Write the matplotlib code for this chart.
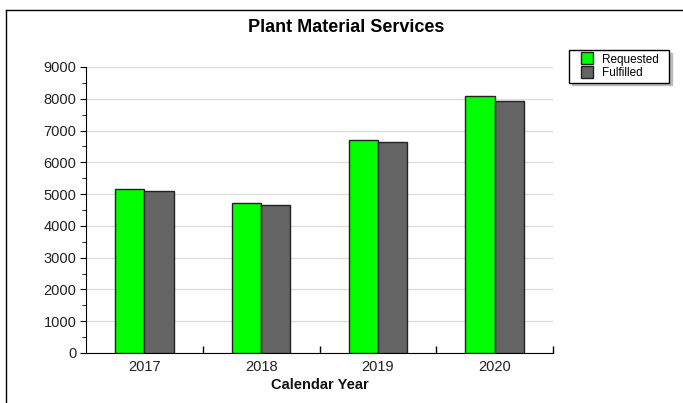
import numpy as np
import matplotlib
matplotlib.use('Agg')
import matplotlib.pyplot as plt
from matplotlib.lines import Line2D
from matplotlib.ticker import MultipleLocator

plt.rcParams['font.family'] = ['Liberation Sans', 'DejaVu Sans']

years = ['2017', '2018', '2019', '2020']
requested = [5150, 4730, 6710, 8080]
fulfilled = [5100, 4670, 6640, 7920]
series_names = ['Requested', 'Fulfilled']
series_colors = ['#00ff00', '#646464']

fig = plt.figure(figsize=(6.83, 4.03), dpi=100)
ax = fig.add_axes([86 / 683, 1 - 353 / 403, 467 / 683, (353 - 67) / 403])

x = np.arange(len(years))
w = 0.25
ax.bar(x - w / 2, requested, w, color=series_colors[0], edgecolor='#222222', linewidth=1, zorder=3)
ax.bar(x + w / 2, fulfilled, w, color=series_colors[1], edgecolor='#222222', linewidth=1, zorder=3)

ax.set_xlim(-0.5, 3.5)
ax.set_ylim(0, 9000)
ax.set_xticks(x)
ax.set_xticklabels(years, fontsize=10.5, color='#222222')
ax.tick_params(axis='x', length=0, pad=5)
# category boundary ticks pointing up
ax.set_xticks(np.arange(0.5, 4, 1), minor=True)
ax.tick_params(axis='x', which='minor', direction='in', length=5, width=1)

ax.yaxis.set_major_locator(MultipleLocator(1000))
ax.yaxis.set_minor_locator(MultipleLocator(500))
ax.tick_params(axis='y', which='major', direction='out', length=4, pad=3,
               labelsize=10.5, labelcolor='#222222')
ax.tick_params(axis='y', which='minor', direction='out', length=3)
ax.grid(axis='y', which='major', color='#dddddd', linewidth=1, zorder=0)

for s in ['top', 'right']:
    ax.spines[s].set_visible(False)

ax.set_xlabel('Calendar Year', fontsize=10.5, fontweight='bold', labelpad=3, color='#111111')
fig.text(0.507, 1 - 27 / 403, 'Plant Material Services', ha='center', va='center',
         fontsize=13, fontweight='bold')

handles = [Line2D([], [], marker='s', linestyle='none', markersize=8.5,
                  markerfacecolor=c, markeredgecolor='#222222', markeredgewidth=1)
           for c in series_colors]
leg = fig.legend(handles, [n + '  ' for n in series_names], loc='upper left',
                 bbox_to_anchor=(569 / 683, 1 - 50 / 403),
                 fontsize=8.5, frameon=True, fancybox=False,
                 shadow={'color': '#bbbbbb', 'alpha': 1},
                 handlelength=2.4, handletextpad=0.1,
                 borderpad=0.3, labelspacing=0.12, borderaxespad=0)
leg.get_frame().set_edgecolor('black')
leg.get_frame().set_linewidth(1)

# outer frame (top and left visible)
fig.add_artist(Line2D([6 / 683, 1], [1 - 10 / 403, 1 - 10 / 403], color='black', linewidth=1, transform=fig.transFigure))
fig.add_artist(Line2D([6 / 683, 6 / 683], [0, 1 - 10 / 403], color='black', linewidth=1, transform=fig.transFigure))

fig.savefig('out.png', dpi=100)
